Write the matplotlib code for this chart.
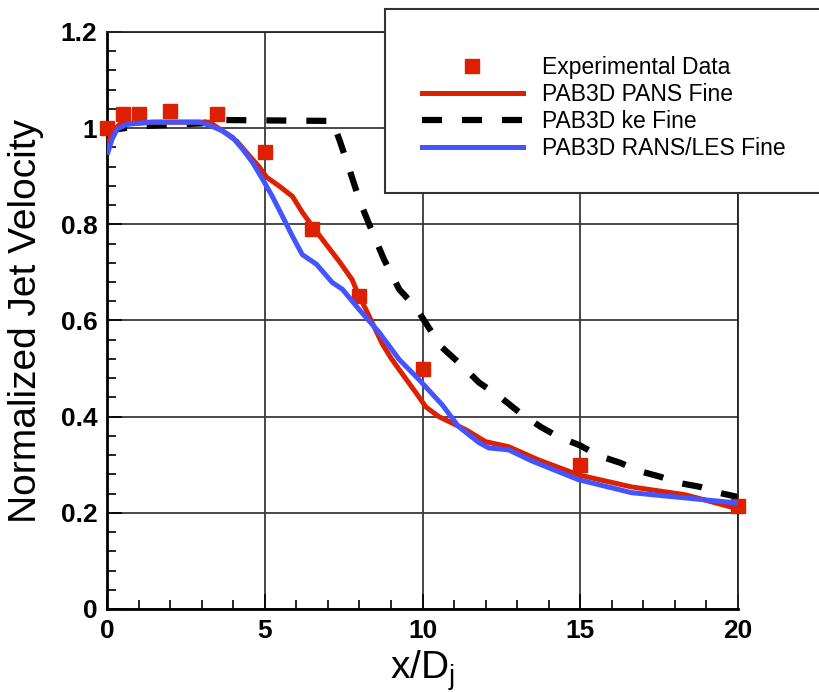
import matplotlib
matplotlib.use('Agg')
import matplotlib.pyplot as plt
from matplotlib.ticker import MultipleLocator
from matplotlib.patches import Rectangle
from matplotlib.lines import Line2D

plt.rcParams['font.family'] = ['Liberation Sans', 'DejaVu Sans']

# ---- data ----
exp_x = [0, 0.5, 1, 2, 3.5, 5, 6.5, 8, 10, 15, 20]
exp_y = [1.0, 1.03, 1.03, 1.035, 1.03, 0.95, 0.79, 0.65, 0.50, 0.30, 0.215]

pans_x = [0, 0.15, 0.4, 1.5, 3.25, 3.67, 4.11, 4.52, 4.83, 5.06, 5.47, 5.88, 6.19,
          6.51, 6.95, 7.36, 7.77, 7.99, 8.20, 8.40, 8.72, 9.0, 9.26, 9.79, 10.11, 10.52,
          11.37, 12.0, 12.73, 13.68, 14.94, 16.62, 18.33, 19.9, 20]
pans_y = [0.96, 0.99, 1.008, 1.0125, 1.0125, 0.994, 0.973, 0.942, 0.919, 0.898, 0.879,
          0.858, 0.825, 0.796, 0.758, 0.723, 0.685, 0.65, 0.624, 0.596, 0.552, 0.522,
          0.498, 0.45, 0.42, 0.40, 0.373, 0.348, 0.3375, 0.31, 0.279, 0.254, 0.2375,
          0.21, 0.208]

ke_x = [0, 1.0, 3.0, 3.6, 7.14, 7.36, 7.68, 7.99, 8.31, 8.78, 9.26, 9.79, 10.2, 10.62,
        11.22, 11.79, 12.48, 13.05, 13.74, 14.31, 15.0, 15.58, 16.27, 16.84, 17.54,
        18.1, 18.8, 19.37, 20]
ke_y = [0.995, 1.004, 1.01, 1.017, 1.015, 0.977, 0.915, 0.852, 0.80, 0.727, 0.665,
        0.627, 0.585, 0.544, 0.508, 0.471, 0.44, 0.41, 0.379, 0.358, 0.34, 0.319, 0.304,
        0.2875, 0.275, 0.2625, 0.254, 0.242, 0.233]

les_x = [0.03, 0.16, 0.32, 0.63, 1.36, 2.94, 3.25, 3.67, 3.98, 4.30, 4.61, 4.93,
         5.24, 5.56, 5.88, 6.19, 6.64, 7.14, 7.46, 7.99, 8.63, 9.26, 9.89, 10.62,
         11.15, 11.79, 12.10, 12.73, 13.46, 14.94, 16.62, 18.33, 19.9, 20]
les_y = [0.95, 0.977, 0.998, 1.008, 1.0125, 1.0125, 1.006, 0.994, 0.981, 0.956,
         0.929, 0.894, 0.858, 0.817, 0.775, 0.737, 0.717, 0.679, 0.665, 0.623, 0.575,
         0.519, 0.477, 0.425, 0.379, 0.346, 0.335, 0.331, 0.308, 0.269, 0.242, 0.231,
         0.221, 0.22]

labels = ['Experimental Data', 'PAB3D PANS Fine', 'PAB3D ke Fine', 'PAB3D RANS/LES Fine']

red = '#dd2000'
blue = '#4455ff'

W, H = 820, 692
fig = plt.figure(figsize=(W / 100, H / 100), dpi=100)
ax = fig.add_axes([107 / W, (H - 609) / H, (738 - 107) / W, (609 - 32) / H])

ax.plot(ke_x, ke_y, color='black', lw=4.5, dashes=(3.2, 3.2), dash_capstyle='butt',
        zorder=2, label=labels[2])
ax.plot(exp_x, exp_y, 's', color=red, ms=10.5, mec=red, zorder=3, label=labels[0],
        clip_on=False)
ax.plot(pans_x, pans_y, color=red, lw=3.6, zorder=4, label=labels[1])
ax.plot(les_x, les_y, color=blue, lw=3.6, zorder=5, label=labels[3])

ax.set_xlim(0, 20)
ax.set_ylim(0, 1.2)
ax.xaxis.set_major_locator(MultipleLocator(5))
ax.xaxis.set_minor_locator(MultipleLocator(1))
ax.yaxis.set_major_locator(MultipleLocator(0.2))
ax.yaxis.set_minor_locator(MultipleLocator(0.04))
ax.xaxis.set_major_formatter(plt.FuncFormatter(lambda v, p: f'{v:g}'))
ax.yaxis.set_major_formatter(plt.FuncFormatter(lambda v, p: f'{v:g}'))

ax.grid(True, which='major', color='#3a3a3a', lw=1.3, zorder=1)
ax.set_axisbelow(True)
ax.tick_params(which='both', direction='in', color='black', width=1.2,
               top=False, right=False)
ax.tick_params(which='major', length=11, pad=7, labelsize=19)
ax.tick_params(which='minor', length=6.5)
for lab in ax.get_xticklabels() + ax.get_yticklabels():
    lab.set_fontweight('bold')
for s in ['left', 'bottom']:
    ax.spines[s].set_linewidth(2)
    ax.spines[s].set_color('black')
for s in ['top', 'right']:
    ax.spines[s].set_linewidth(1.3)
    ax.spines[s].set_color('#222222')

ax.set_ylabel('Normalized Jet Velocity', fontsize=28, labelpad=12)
ax.set_xlabel(r'x/D$_\mathregular{j}$', fontsize=28, labelpad=4)

# legend box
rect = Rectangle((385 / W, (H - 193) / H), (W - 385) / W + 0.02, (193 - 9) / H,
                 transform=fig.transFigure, facecolor='white', edgecolor='#333333',
                 lw=1.5, zorder=3, clip_on=False)
fig.patches.append(rect)

handles = [
    Line2D([], [], ls='none', marker='s', color=red, ms=10.5),
    Line2D([], [], color=red, lw=3.6),
    Line2D([], [], color='black', lw=4.5, dashes=(3.2, 3.2), dash_capstyle='butt'),
    Line2D([], [], color=blue, lw=3.6),
]
leg = fig.legend(handles, labels, loc='upper left',
                 bbox_to_anchor=(422 / W, (H - 56) / H), bbox_transform=fig.transFigure,
                 frameon=False, fontsize=16.5, handlelength=4.4, handletextpad=0.83,
                 labelspacing=0.175, borderpad=0, borderaxespad=0)
leg.set_zorder(6)

fig.savefig('out.png', dpi=100)
